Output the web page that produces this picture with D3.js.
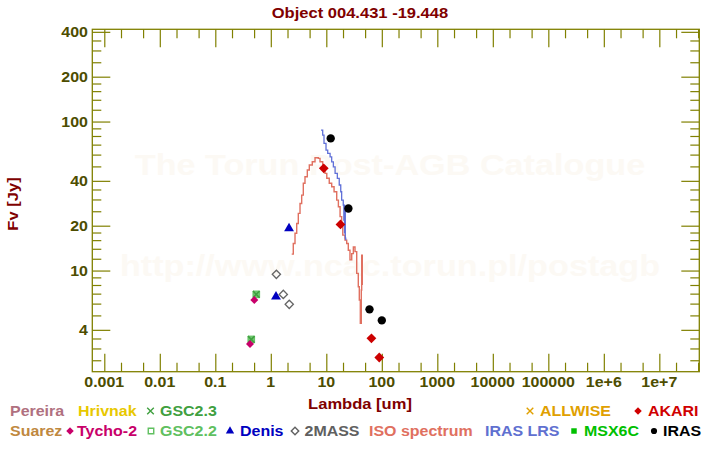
<!DOCTYPE html>
<html><head><meta charset="utf-8">
<script src="https://cdn.jsdelivr.net/npm/d3@7"></script>
<style>
html,body{margin:0;padding:0;background:#fff;}
text{font-family:"Liberation Sans",Arial,sans-serif;font-weight:bold;}
</style></head>
<body>
<svg id="c" width="720" height="450"></svg>
<script>
// ---- data ----
const isoWave = [2.38,2.54,2.73,2.93,3.13,3.36,3.60,3.85,4.13,4.55,4.94,5.59,6.26,7.18,7.70,8.61,9.48,10.2,11.3,12.5,13.8,15.4,16.5,17.7,18.9,19.8,21.7,23.3,24.9,26.7,28.7,30.7,32.9,35.3,37.7,39.3,41.0,42.7,43.4,44.5];
const isoFlux = [12.9,15.2,17.8,20.7,24.2,28.2,32.1,38.5,42.6,47.3,51.1,53.7,57.1,56.6,53.7,49.7,44.9,41.6,38.5,36.5,33.8,29.7,26.8,23.0,19.7,17.3,16.0,15.2,13.7,11.8,13.0,14.4,13.4,9.58,7.79,6.34,4.42,7.40,12.7,8.0];
const lrsWave = [8.03,8.61,9.09,9.88,10.6,11.7,12.5,13.4,14.4,15.8,17.1,18.2,18.9,20.2,20.7,20.9,21.3,21.6,22.0,22.4];
const lrsFlux = [87.7,81.2,71.4,64.4,61.2,58.0,53.7,49.7,44.9,41.6,37.5,33.8,29.7,27.5,21.8,27.5,17.9,25.5,16.5,16.0];
const tychoWave = [0.422,0.504], tychoFlux = [3.21,6.34];
const gsc22Wave = [0.445,0.548], gsc22Flux = [3.45,6.92];
const gsc23Wave = [0.445,0.548], gsc23Flux = [3.45,6.92];
const denisWave = [1.24,2.13], denisFlux = [6.67,19.2];
const twomassWave = [1.26,1.68,2.15], twomassFlux = [9.43,6.92,5.93];
const akariWave = [9,18,65,90], akariFlux = [48.5,20.4,3.51,2.61];
const irasWave = [12,25,60,100], irasFlux = [77.1,26.1,5.49,4.63];
const xMajor = [0.001,0.01,0.1,1,10,100,1000,10000,100000,1e6,1e7];
const xLabels = ["0.001","0.01","0.1","1","10","100","1000","10000","100000","1e+6","1e+7"];
const yMajor = [4,10,20,40,100,200,400];
const yLabels = ["4","10","20","40","100","200","400"];
const yMinor = [2.5,3,3.5,5,6,7,8,9,12,14,16,18,25,30,35,50,60,70,80,90,120,140,160,180,250,300,350];

const svg = d3.select("#c");
const L=92.3, R=699.3, T=29.3, B=371.7;
const x = d3.scaleLog().domain([6.08e-4,5.25e7]).range([L,R]);
const y = d3.scaleLog().domain([2.095,416]).range([B,T]);
const AX="#808000", TL="#4d4d00", DR="#800000";
const SX=1.14;
function stretch(sel,f){sel.each(function(){const w=this.getComputedTextLength();this.setAttribute("textLength",w*(f||SX));this.setAttribute("lengthAdjust","spacingAndGlyphs");});return sel;}

// watermark
svg.append("text").attr("x",390).attr("y",175).attr("text-anchor","middle").attr("font-size",30).attr("fill","#fcf9f4").text("The Torun Post-AGB Catalogue").call(stretch);
svg.append("text").attr("x",390).attr("y",276).attr("text-anchor","middle").attr("font-size",30).attr("fill","#fcf9f4").text("http://www.ncac.torun.pl/postagb").call(stretch);

// x minor ticks
const xMinor=[];
for(let e=-4;e<=8;e++){[2,5].forEach(m=>{const v=m*Math.pow(10,e);if(v>x.domain()[0]&&v<x.domain()[1])xMinor.push(v);});}

function axis(gen, vals, size, tr){
  svg.append("g").attr("transform",tr).call(gen.tickValues(vals).tickSize(size).tickFormat(""))
    .call(g=>{g.select(".domain").remove();g.selectAll("line").attr("stroke",AX).attr("stroke-width",1.2);});
}
axis(d3.axisTop(x), xMajor, 18, `translate(0,${B})`);
axis(d3.axisTop(x), xMinor, 9, `translate(0,${B})`);
axis(d3.axisBottom(x), xMajor, 18, `translate(0,${T})`);
axis(d3.axisBottom(x), xMinor, 9, `translate(0,${T})`);
axis(d3.axisRight(y), yMajor, 18, `translate(${L},0)`);
axis(d3.axisRight(y), yMinor, 9, `translate(${L},0)`);
axis(d3.axisLeft(y), yMajor, 18, `translate(${R},0)`);
axis(d3.axisLeft(y), yMinor, 9, `translate(${R},0)`);
svg.append("rect").attr("x",L).attr("y",T).attr("width",R-L).attr("height",B-T).attr("fill","none").attr("stroke",AX).attr("stroke-width",1.3);

// tick labels
svg.append("g").selectAll("text").data(xMajor).join("text")
  .attr("x",d=>x(d)).attr("y",387).attr("text-anchor","middle").attr("font-size",14).attr("fill",TL)
  .text((d,i)=>xLabels[i]).call(stretch);
svg.append("g").selectAll("text").data(yMajor).join("text")
  .attr("x",88).attr("y",d=>y(d)+5).attr("text-anchor","end").attr("font-size",14).attr("fill",TL)
  .text((d,i)=>yLabels[i]).call(stretch);

// titles
svg.append("text").attr("x",360).attr("y",18).attr("text-anchor","middle").attr("font-size",14.5).attr("fill",DR).text("Object 004.431 -19.448").call(stretch);
svg.append("text").attr("x",360).attr("y",409).attr("text-anchor","middle").attr("font-size",14.5).attr("fill",DR).text("Lambda [um]").call(stretch);
svg.append("text").attr("transform","translate(17.5,204) rotate(-90)").attr("text-anchor","middle").attr("font-size",14.5).attr("fill",DR).text("Fv [Jy]").call(stretch);

// lines
const line = d3.line().x(d=>x(d[0])).y(d=>y(d[1])).curve(d3.curveStepAfter);
svg.append("path").datum(d3.zip(isoWave,isoFlux)).attr("d",line).attr("fill","none").attr("stroke","#e07060").attr("stroke-width",1.4);
svg.append("path").datum(d3.zip(lrsWave,lrsFlux)).attr("d",line).attr("fill","none").attr("stroke","#6070d8").attr("stroke-width",1.3);

// markers
function pts(w,f,type,size,fill,stroke,sw,rot){
  svg.append("g").selectAll("path").data(d3.zip(w,f)).join("path")
    .attr("transform",d=>`translate(${x(d[0])},${y(d[1])}) rotate(${rot||0})`)
    .attr("d",d3.symbol().type(type).size(size))
    .attr("fill",fill).attr("stroke",stroke||"none").attr("stroke-width",sw||1);
}
pts(gsc22Wave,gsc22Flux,d3.symbolSquare,44,"#70c870","#60c060",1);
pts(gsc23Wave,gsc23Flux,d3.symbolTimes,30,"none","#40a040",1.5);
pts(tychoWave,tychoFlux,d3.symbolSquare,32,"#c8006a",null,0,45);
pts(denisWave,denisFlux,d3.symbolTriangle,42,"#0000c0");
pts(twomassWave,twomassFlux,d3.symbolSquare,34,"none","#666",1.3,45);
pts(akariWave,akariFlux,d3.symbolSquare,48,"#cc0000",null,0,45);
pts(irasWave,irasFlux,d3.symbolCircle,55,"#000");

// legend
const legend = [
 {t:"Pereira",x:10,y:416,c:"#b07080"},
 {t:"Hrivnak",x:78,y:416,c:"#e8c800"},
 {t:"GSC2.3",x:160,y:416,c:"#40a040",m:d3.symbolTimes,mx:150.5,f:"none",s:"#40a040"},
 {t:"ALLWISE",x:540,y:416,c:"#e0a000",m:d3.symbolTimes,mx:530,f:"none",s:"#e0a000"},
 {t:"AKARI",x:648,y:416,c:"#d00000",m:d3.symbolSquare,r:45,mx:638,f:"#d00000"},
 {t:"Suarez",x:10,y:436,c:"#c08840"},
 {t:"Tycho-2",x:77,y:436,c:"#c8006a",m:d3.symbolSquare,r:45,mx:70,f:"#c8006a"},
 {t:"GSC2.2",x:160,y:436,c:"#60c060",m:d3.symbolSquare,mx:151,f:"none",s:"#60c060"},
 {t:"Denis",x:240,y:436,c:"#0000c0",m:d3.symbolTriangle,mx:230,f:"#0000c0"},
 {t:"2MASS",x:304.5,y:436,c:"#606060",m:d3.symbolSquare,r:45,mx:295,f:"none",s:"#606060"},
 {t:"ISO spectrum",x:369,y:436,c:"#e07060"},
 {t:"IRAS LRS",x:485,y:436,c:"#6070d0"},
 {t:"MSX6C",x:584,y:436,c:"#00c000",m:d3.symbolSquare,mx:574,f:"#00c000"},
 {t:"IRAS",x:663,y:436,c:"#000",m:d3.symbolCircle,mx:654,f:"#000"}
];
const lg = svg.append("g");
legend.forEach(e=>{
  lg.append("text").attr("x",e.x).attr("y",e.y).attr("font-size",14).attr("fill",e.c).text(e.t).call(stretch);
  if(e.m){
    lg.append("path").attr("transform",`translate(${e.mx},${e.y-5}) rotate(${e.r||0})`).attr("d",d3.symbol().type(e.m).size(e.m===d3.symbolTimes?30:(e.r?28:30)))
      .attr("fill",e.f).attr("stroke",e.s||"none").attr("stroke-width",e.s?1.4:0);
  }
});
</script>
</body></html>
